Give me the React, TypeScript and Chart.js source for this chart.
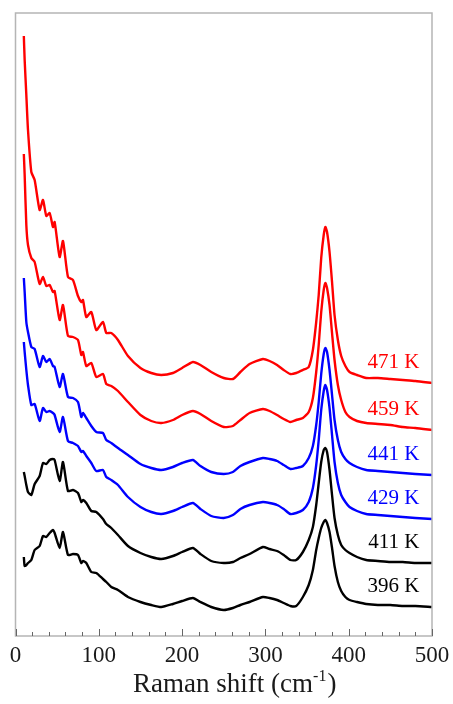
import React, { useEffect, useRef } from 'react';
import { Chart, registerables } from 'chart.js';

Chart.register(...registerables);

// Raman shift (cm^-1)
const ramanShift = [
  10, 11, 13, 15, 19, 23, 29, 33, 37, 41,
  45, 47, 53, 57, 63, 69, 75, 79, 81, 85,
  91, 97, 105, 109, 115, 123, 135, 150, 163, 175,
  189, 200, 213, 222, 235, 250, 261, 270, 281, 297,
  305, 314, 322, 330, 337, 345, 352, 357, 361, 364,
  367, 370, 372, 374, 377, 380, 383, 387, 391, 396,
  401, 410, 421, 435, 450, 465, 480, 500,
];

// Offset intensities (arb. units)
const i471 = [
  600, 576, 541, 506, 464, 456, 426, 436, 420, 423,
  409, 414, 379, 395, 359, 356, 340, 334, 336, 319,
  324, 306, 314, 303, 303, 296, 280, 268, 263, 261,
  263, 268, 274, 271, 264, 258, 257, 264, 272, 277,
  275, 271, 266, 262, 263, 266, 269, 286, 314, 341,
  378, 401, 409, 404, 384, 354, 321, 296, 280, 270,
  264, 261, 258, 258, 257, 256, 255, 253,
];
const i459 = [
  482, 461, 411, 391, 378, 374, 352, 359, 350, 351,
  344, 345, 316, 331, 300, 299, 296, 281, 284, 270,
  273, 259, 262, 252, 250, 245, 234, 221, 215, 213,
  216, 221, 225, 222, 215, 209, 210, 216, 223, 227,
  225, 221, 217, 214, 216, 218, 224, 238, 264, 291,
  324, 346, 353, 348, 331, 303, 276, 251, 236, 224,
  219, 215, 213, 212, 211, 209, 208, 206,
];
const i441 = [
  358, 344, 314, 304, 289, 287, 269, 280, 274, 277,
  270, 269, 249, 262, 239, 238, 234, 219, 223, 218,
  210, 204, 203, 196, 193, 188, 181, 172, 168, 166,
  169, 173, 176, 170, 164, 162, 164, 170, 174, 178,
  177, 175, 171, 167, 168, 170, 178, 190, 211, 234,
  262, 282, 288, 284, 266, 241, 216, 196, 184, 177,
  173, 169, 166, 165, 164, 163, 162, 161,
];
const i429 = [
  294, 284, 266, 251, 231, 232, 215, 228, 224, 225,
  223, 221, 204, 219, 195, 193, 190, 184, 185, 180,
  173, 165, 166, 159, 156, 151, 139, 129, 124, 122,
  125, 129, 133, 127, 120, 118, 121, 127, 131, 134,
  133, 131, 127, 122, 123, 126, 134, 148, 171, 196,
  226, 245, 251, 246, 228, 201, 174, 153, 141, 134,
  129, 125, 122, 121, 120, 119, 118, 117,
];
const i411 = [
  164, 160, 151, 144, 141, 152, 160, 173, 172, 176,
  177, 176, 155, 174, 145, 146, 143, 134, 136, 133,
  125, 124, 117, 112, 108, 101, 90, 83, 79, 77,
  80, 84, 88, 82, 75, 73, 74, 78, 82, 89,
  87, 85, 81, 76, 76, 84, 96, 109, 131, 153,
  174, 186, 188, 184, 166, 141, 118, 101, 91, 86,
  83, 79, 76, 75, 74, 74, 73, 73,
];
const i396 = [
  79, 70, 71, 73, 76, 86, 90, 100, 99, 103,
  106, 103, 88, 104, 81, 82, 81, 73, 75, 73,
  64, 63, 57, 54, 49, 46, 39, 34, 31, 29,
  32, 35, 38, 34, 29, 26, 28, 31, 34, 39,
  38, 36, 33, 30, 30, 39, 51, 66, 86, 98,
  108, 114, 116, 113, 104, 88, 70, 54, 45, 39,
  36, 34, 32, 31, 31, 30, 30, 29,
];

const seriesLabels = ['471 K', '459 K', '441 K', '429 K', '411 K', '396 K'];
const seriesColors = ['#ff0000', '#ff0000', '#0000ff', '#0000ff', '#000000', '#000000'];
const seriesValues = [i471, i459, i441, i429, i411, i396];
const xTickValues = [0, 100, 200, 300, 400, 500];
const xTitleMain = 'Raman shift (cm';
const xTitleSup = '-1';
const xTitleEnd = ')';

const FONT = "'Times New Roman', 'Liberation Serif', 'DejaVu Serif', serif";

const framePlugin = {
  id: 'frameAndLabels',
  afterDatasetsDraw(chart: any) {
    const { ctx, chartArea: a, scales } = chart;
    const x = scales.x;
    const y = scales.y;
    ctx.save();
    ctx.strokeStyle = '#b5b5b5';
    ctx.lineWidth = 1.5;
    ctx.strokeRect(a.left, a.top, a.right - a.left, a.bottom - a.top);
    ctx.strokeStyle = '#666666';
    ctx.lineWidth = 1;
    for (let v = 0; v <= 500; v += 20) {
      const px = Math.round(x.getPixelForValue(v)) + 0.5;
      const len = v % 100 === 0 ? 7 : 4;
      ctx.beginPath();
      ctx.moveTo(px, a.bottom);
      ctx.lineTo(px, a.bottom - len);
      ctx.stroke();
    }
    // series labels
    ctx.font = `21px ${FONT}`;
    ctx.textAlign = 'right';
    ctx.textBaseline = 'middle';
    chart.data.datasets.forEach((ds: any) => {
      const last = ds.data[ds.data.length - 1];
      ctx.fillStyle = ds.borderColor;
      ctx.fillText(ds.label, x.getPixelForValue(485), y.getPixelForValue(last.y + 21));
    });
    // axis title with superscript
    ctx.fillStyle = '#1a1a1a';
    ctx.textAlign = 'left';
    ctx.textBaseline = 'alphabetic';
    const mainFont = `27px ${FONT}`;
    const supFont = `16px ${FONT}`;
    ctx.font = mainFont;
    const w1 = ctx.measureText(xTitleMain).width;
    const w3 = ctx.measureText(xTitleEnd).width;
    ctx.font = supFont;
    const w2 = ctx.measureText(xTitleSup).width;
    const total = w1 + w2 + w3 + 1;
    const cx = (a.left + a.right) / 2 + 11;
    const baseY = a.bottom + 56;
    let sx = cx - total / 2;
    ctx.font = mainFont;
    ctx.fillText(xTitleMain, sx, baseY);
    sx += w1;
    ctx.font = supFont;
    ctx.fillText(xTitleSup, sx, baseY - 11);
    sx += w2 + 1;
    ctx.font = mainFont;
    ctx.fillText(xTitleEnd, sx, baseY);
    ctx.restore();
  },
};

export default function App() {
  const ref = useRef<HTMLCanvasElement>(null);
  useEffect(() => {
    if (!ref.current) return;
    const datasets = seriesValues.map((vals, i) => ({
      label: seriesLabels[i],
      data: vals.map((v, j) => ({ x: ramanShift[j], y: v })),
      borderColor: seriesColors[i],
      backgroundColor: seriesColors[i],
      borderWidth: 2.4,
      pointRadius: 0,
      tension: 0.2,
      fill: false,
    }));
    const chart = new Chart(ref.current, {
      type: 'line',
      data: { datasets },
      options: {
        animation: false,
        responsive: false,
        devicePixelRatio: 1,
        layout: { padding: { left: 15.5, right: 21, top: 13, bottom: 0 } },
        plugins: { legend: { display: false }, tooltip: { enabled: false } },
        scales: {
          x: {
            type: 'linear',
            min: 0,
            max: 500,
            afterBuildTicks: (scale: any) => {
              scale.ticks = xTickValues.map((v) => ({ value: v }));
            },
            afterFit: (scale: any) => {
              scale.height = 68;
              scale.paddingLeft = 0;
              scale.paddingRight = 0;
            },
            grid: { display: false },
            border: { display: false },
            ticks: {
              autoSkip: false,
              maxRotation: 0,
              padding: -2,
              color: '#1a1a1a',
              font: { family: FONT, size: 23 },
            },
            title: { display: false },
          },
          y: { display: false, min: 0, max: 623 },
        },
      },
      plugins: [framePlugin],
    });
    return () => chart.destroy();
  }, []);
  return (
    <div style={{ position: 'absolute', left: 0, top: 0, width: 453, height: 704, background: '#fff' }}>
      <canvas ref={ref} width={453} height={704} style={{ display: 'block' }} />
    </div>
  );
}
